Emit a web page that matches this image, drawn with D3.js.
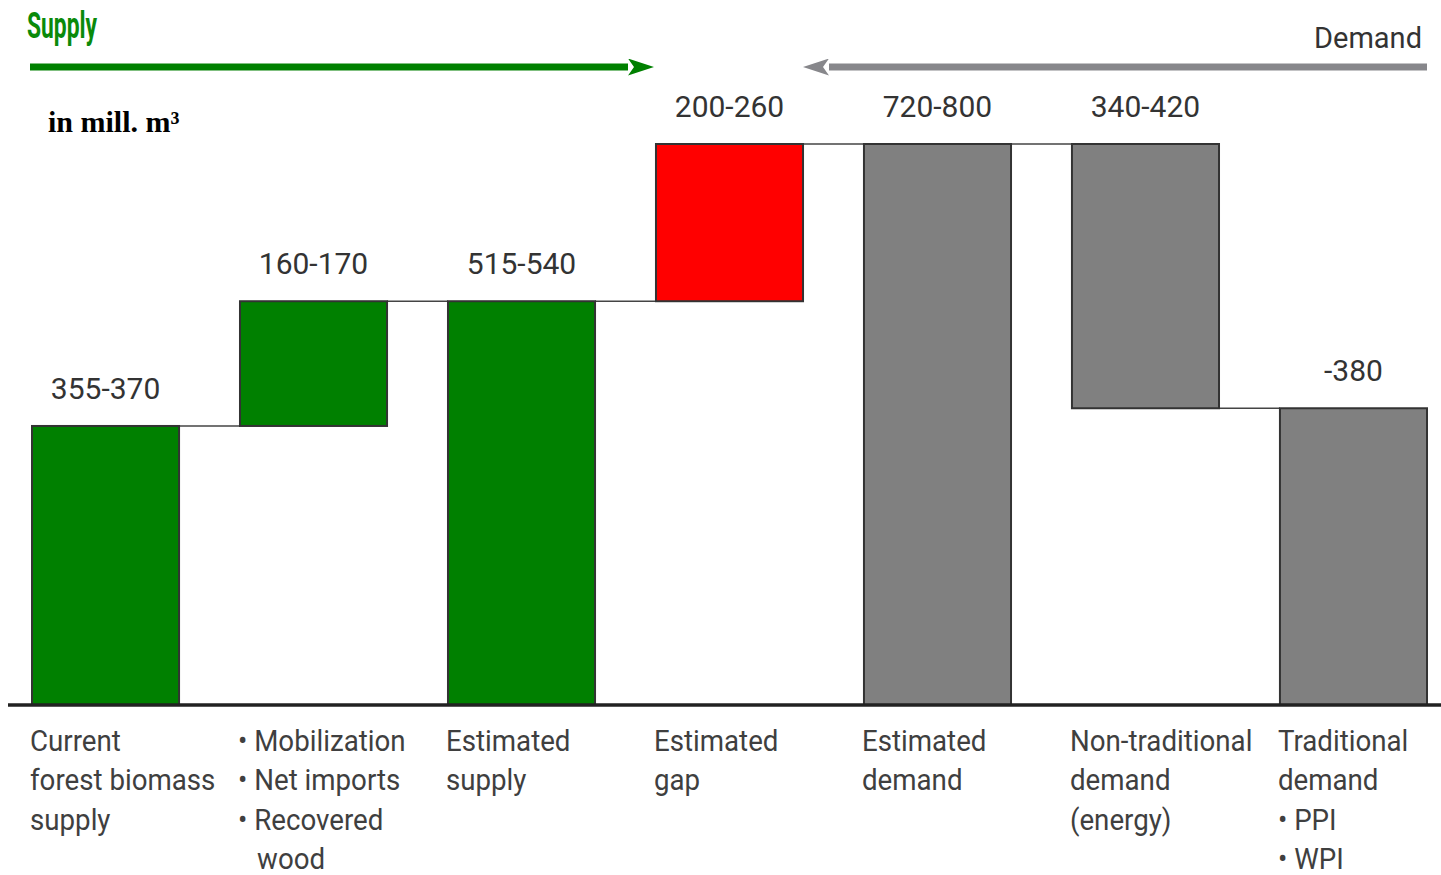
<!DOCTYPE html>
<html>
<head>
<meta charset="utf-8">
<script src="https://cdn.jsdelivr.net/npm/d3@7"></script>
<style>
  body { margin: 0; background: #fff; }
  svg { display: block; }
</style>
</head>
<body>
<div id="chart"></div>
<script>
// data (mill. m³) – úrovně
var categories = ["Current forest biomass supply", "Mobilization, net imports, recovered wood",
  "Estimated supply", "Estimated gap", "Estimated demand",
  "Non-traditional demand (energy)", "Traditional demand"];
var barStart = [0, 378, 0, 547, 0, 402, 0];
var barEnd   = [378, 547, 547, 760, 760, 760, 402];
var valueLabels = ["355-370", "160-170", "515-540", "200-260", "720-800", "340-420", "-380"];
var barType = ["supply", "supply", "supply", "gap", "demand", "demand", "demand"];
var labelLines = [
  ["Current", "forest biomass", "supply"],
  ["• Mobilization", "• Net imports", "• Recovered", "  wood"],
  ["Estimated", "supply"],
  ["Estimated", "gap"],
  ["Estimated", "demand"],
  ["Non-traditional", "demand", "(energy)"],
  ["Traditional", "demand", "• PPI", "• WPI"]
];

var W = 1441, H = 875;
var colors = { supply: "#008000", gap: "#ff0000", demand: "#808080" };

var svg = d3.select("#chart").append("svg")
  .attr("width", W).attr("height", H);

var x = d3.scaleBand()
  .domain(d3.range(categories.length))
  .range([32, 1427])
  .paddingInner(0.293)
  .paddingOuter(0);

var y = d3.scaleLinear().domain([0, 760]).range([705, 144]);

// spojovací čáry mezi sloupci
for (var i = 0; i < categories.length - 1; i++) {
  var a = [barStart[i], barEnd[i]], b = [barStart[i + 1], barEnd[i + 1]];
  var lvl = a.filter(v => v !== 0 && b.indexOf(v) >= 0)[0];
  svg.append("line")
    .attr("x1", x(i) + x.bandwidth()).attr("x2", x(i + 1))
    .attr("y1", y(lvl)).attr("y2", y(lvl))
    .attr("stroke", "#444").attr("stroke-width", 1.5);
}

// sloupce
svg.selectAll("rect.bar")
  .data(categories)
  .enter().append("rect")
  .attr("class", "bar")
  .attr("x", (d, i) => x(i))
  .attr("width", x.bandwidth())
  .attr("y", (d, i) => y(barEnd[i]))
  .attr("height", (d, i) => y(barStart[i]) - y(barEnd[i]))
  .attr("fill", (d, i) => colors[barType[i]])
  .attr("stroke", "#333")
  .attr("stroke-width", 2);

// základní linie
svg.append("line")
  .attr("x1", 8).attr("x2", W)
  .attr("y1", y(0)).attr("y2", y(0))
  .attr("stroke", "#222").attr("stroke-width", 3.5);

// hodnoty nad sloupci
svg.selectAll("text.val")
  .data(valueLabels)
  .enter().append("text")
  .attr("class", "val")
  .attr("x", (d, i) => x(i) + x.bandwidth() / 2)
  .attr("y", (d, i) => y(barEnd[i]) - 27)
  .attr("text-anchor", "middle")
  .style("font-family", "Roboto, sans-serif")
  .style("font-size", "30px")
  .style("fill", "#333")
  .text(d => d);

// popisky kategorií
labelLines.forEach(function (lines, i) {
  var t = svg.append("g")
    .attr("transform", "translate(" + (x(i) - 2) + ",0) scale(0.955,1)")
    .append("text")
    .style("font-family", "Roboto, sans-serif")
    .style("font-size", "29px")
    .style("fill", "#3f3f3f");
  lines.forEach(function (ln, j) {
    t.append("tspan")
      .attr("x", ln.startsWith("  ") ? 20 : 0)
      .attr("y", 751 + j * 39.5)
      .text(ln.trim());
  });
});

// šipky Supply / Demand
var defs = svg.append("defs");
function marker(id, col) {
  defs.append("marker")
    .attr("id", id)
    .attr("viewBox", "0 0 26 17")
    .attr("refX", 0).attr("refY", 8.5)
    .attr("markerUnits", "userSpaceOnUse")
    .attr("markerWidth", 26).attr("markerHeight", 17)
    .attr("orient", "auto")
    .append("path")
    .attr("d", "M0,0 L26,8.5 L0,17 L6,8.5 Z")
    .attr("fill", col);
}
marker("arrG", "#008000");
marker("arrD", "#87878b");

svg.append("line")
  .attr("x1", 30).attr("x2", 628).attr("y1", 67).attr("y2", 67)
  .attr("stroke", "#008000").attr("stroke-width", 7)
  .attr("marker-end", "url(#arrG)");
svg.append("line")
  .attr("x1", 1427).attr("x2", 829).attr("y1", 67).attr("y2", 67)
  .attr("stroke", "#87878b").attr("stroke-width", 7)
  .attr("marker-end", "url(#arrD)");

svg.append("text")
  .attr("x", 27).attr("y", 38)
  .attr("textLength", 70).attr("lengthAdjust", "spacingAndGlyphs")
  .style("font-family", "Roboto, sans-serif")
  .style("font-weight", "bold")
  .style("font-size", "36px")
  .style("fill", "#0a8a0a")
  .text("Supply");

svg.append("text")
  .attr("x", 1422).attr("y", 48)
  .attr("text-anchor", "end")
  .style("font-family", "Roboto, sans-serif")
  .style("font-size", "29px")
  .style("fill", "#333")
  .text("Demand");

svg.append("text")
  .attr("x", 48).attr("y", 132)
  .style("font-family", "'Liberation Serif', serif")
  .style("font-weight", "bold")
  .style("font-size", "30px")
  .style("fill", "#000")
  .text("in mill. m³");
</script>
</body>
</html>
